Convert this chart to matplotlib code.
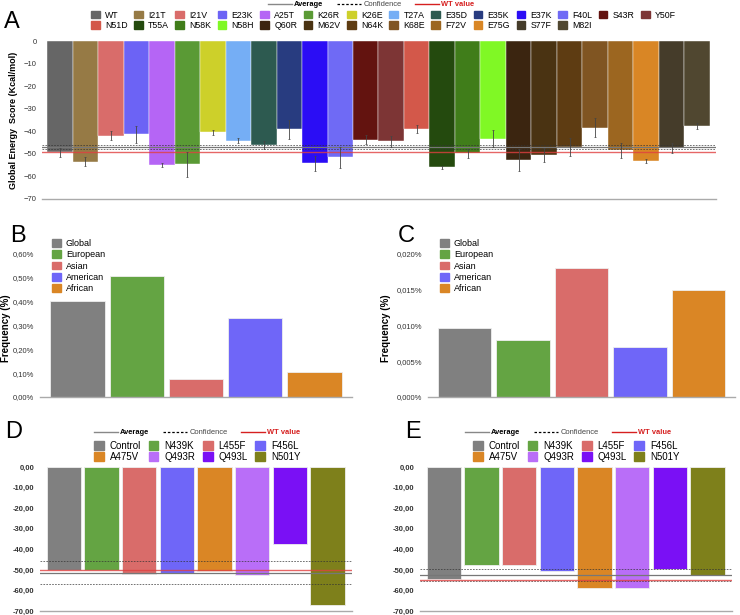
import matplotlib.pyplot as plt
from matplotlib.patches import Patch
from matplotlib.lines import Line2D
from matplotlib.ticker import FuncFormatter

plt.rcParams['font.family'] = ['Liberation Sans', 'DejaVu Sans']

W, H = 740, 615

# ---- Panel A: global energy score per mutation ----
mut_a = ['WT', 'I21T', 'I21V', 'E23K', 'A25T', 'K26R', 'K26E', 'T27A', 'E35D',
         'E35K', 'E37K', 'F40L', 'S43R', 'Y50F', 'N51D', 'T55A', 'N58K', 'N58H',
         'Q60R', 'M62V', 'N64K', 'K68E', 'F72V', 'E75G', 'S77F', 'M82I']
energy_a = [-49.2, -53.6, -41.9, -41.4, -55.0, -54.7, -40.5, -44.1, -46.1,
            -39.2, -54.1, -51.6, -43.8, -44.5, -38.9, -56.0, -49.7, -43.2,
            -52.8, -50.4, -47.0, -38.5, -48.5, -53.2, -47.3, -37.7]
err_a = [2.0, 2.0, 2.0, 3.8, 1.0, 5.7, 1.0, 1.3, 1.8,
         4.0, 3.3, 4.5, 2.0, 2.6, 1.7, 0.8, 2.0, 3.7,
         5.0, 3.0, 4.0, 4.2, 3.3, 1.0, 2.2, 1.3]
colors_a = ['#666666', '#967a45', '#d96c6a', '#6c63f5', '#b565f5', '#5a9a35',
            '#cdd02a', '#75aef5', '#2d5a50', '#283c80', '#2b0df5', '#6f6af5',
            '#63130f', '#7d3535', '#d3584a', '#244a0e', '#407d1a', '#80f825',
            '#3b2510', '#4a3312', '#5e3c12', '#805522', '#9c6620', '#d98625',
            '#453c2a', '#504730']
avg_a = -47.0
conf_a = [-46.1, -47.9]
wt_a = -49.2

# ---- Panels B and C: population frequencies ----
pops = ['Global', 'European', 'Asian', 'American', 'African']
freq_b = [0.402, 0.509, 0.077, 0.333, 0.104]
freq_c = [0.0096, 0.0080, 0.0180, 0.0070, 0.0150]
pop_colors = ['#808080', '#64a443', '#d96c6a', '#6f66f8', '#da8625']

# ---- Panels D and E: ACE2 variants ----
mut_de = ['Control', 'N439K', 'L455F', 'F456L', 'A475V', 'Q493R', 'Q493L', 'N501Y']
energy_d = [-50.2, -49.9, -52.0, -51.3, -50.4, -52.3, -37.4, -67.1]
energy_e = [-54.6, -47.6, -47.8, -50.7, -58.8, -58.9, -49.5, -52.5]
de_colors = ['#808080', '#64a443', '#d96c6a', '#6f66f8', '#da8625', '#b96ef8',
             '#7a10f5', '#7e801b']
avg_d, conf_d, wt_d = -51.3, [-45.8, -56.8], -50.2
avg_e, conf_e, wt_e = -52.3, [-49.4, -55.5], -54.9


def add_ax(left, top, right, bottom):
    return fig.add_axes([left / W, 1 - bottom / H, (right - left) / W, (bottom - top) / H])


def style(ax, size=5.5, bold=False):
    for s in ['left', 'right', 'top']:
        ax.spines[s].set_visible(False)
    ax.spines['bottom'].set_color('#aaaaaa')
    ax.spines['bottom'].set_linewidth(1.0)
    ax.tick_params(length=0, labelsize=size, colors='#333333', pad=4)
    ax.set_xticks([])
    if bold:
        for t in ax.get_yticklabels():
            t.set_fontweight('bold')


def row_major(items, ncol):
    n = len(items)
    nrow = -(-n // ncol)
    out = []
    for j in range(ncol):
        for r in range(nrow):
            i = r * ncol + j
            if i < n:
                out.append(items[i])
    return out


def line_legend(x, y, size=5.4):
    handles = [Line2D([], [], color='#888888', lw=1.0),
               Line2D([], [], color='black', lw=0.9, ls=(0, (2, 1.5))),
               Line2D([], [], color='#d62020', lw=1.0)]
    leg = fig.legend(handles, ['Average', 'Confidence', 'WT value'], ncol=3,
                     loc='upper left', bbox_to_anchor=(x / W, 1 - y / H),
                     frameon=False, fontsize=size, handlelength=3.2,
                     handletextpad=0.3, columnspacing=1.8, borderpad=0,
                     borderaxespad=0)
    txt = leg.get_texts()
    txt[0].set_fontweight('bold')
    txt[1].set_color('#444444')
    txt[2].set_fontweight('bold')
    txt[2].set_color('#d62020')


def hlines(ax, avg, conf, wt):
    ax.axhline(avg, color='#777777', lw=0.9, zorder=4)
    for c in conf:
        ax.axhline(c, color='#333333', lw=0.6, ls=(0, (2, 1.5)), zorder=4, alpha=0.8)
    ax.axhline(wt, color='#e04040', lw=1.0, zorder=4, alpha=0.8)


fig = plt.figure(figsize=(W / 100, H / 100), dpi=100)

# Panel A
axA = add_ax(42, 41, 716, 199)
xa = list(range(len(mut_a)))
axA.bar(xa, energy_a, width=1.0, color=colors_a, edgecolor='#ffffff', linewidth=0.3, zorder=2)
axA.errorbar(xa, energy_a, yerr=err_a, fmt='none', ecolor='#444444',
             elinewidth=0.6, capsize=1, capthick=0.5, zorder=5)
hlines(axA, avg_a, conf_a, wt_a)
axA.set_ylim(-70, 0)
axA.set_xlim(-0.7, len(mut_a) - 0.26)
axA.set_yticks(range(-70, 1, 10))
style(axA)
axA.set_ylabel('Global Energy  Score (Kcal/mol)', fontsize=6.5, fontweight='bold')
axA.yaxis.set_label_coords(-0.035, 0.5)

handles_a = [Patch(color=c) for c in colors_a]
fig.legend(row_major(handles_a, 14), row_major(mut_a, 14), ncol=14,
           loc='upper left', bbox_to_anchor=(91 / W, 1 - 10.5 / H), frameon=False,
           fontsize=6.3, handlelength=1.0, handleheight=1.0, handletextpad=0.6,
           columnspacing=0.72, labelspacing=0.2, borderpad=0, borderaxespad=0)
line_legend(268, 1)

# Panels B and C
for left, right, vals, fmt, label_x, tick_max in [
        (40, 352, freq_b, '{:.2f}%', -0.094, 0.6),
        (428, 735, freq_c, '{:.3f}%', -0.12, 0.02)]:
    ax = add_ax(left, 254, right, 397)
    xp = list(range(len(pops)))
    ax.bar(xp, vals, width=0.915, color=pop_colors, edgecolor='#eeeeee', linewidth=0.6)
    ax.set_ylim(0, tick_max)
    ax.set_xlim(-0.63, 4.63)
    nt = 6 if tick_max == 0.6 else 4
    ax.set_yticks([tick_max * i / nt for i in range(nt + 1)])
    ax.yaxis.set_major_formatter(FuncFormatter(lambda v, p, f=fmt: f.format(v).replace('.', ',')))
    style(ax)
    ax.set_ylabel('Frequency (%)', fontsize=7, fontweight='bold')
    ax.yaxis.set_label_coords(label_x, 0.48)
    ax.legend([Patch(color=c) for c in pop_colors], pops, loc='upper left',
              bbox_to_anchor=((left + 12) / W, 1 - 239 / H),
              bbox_transform=fig.transFigure, frameon=False, fontsize=6.5,
              handlelength=0.95, handleheight=0.95, handletextpad=0.6,
              labelspacing=0.25, borderpad=0, borderaxespad=0)

# Panels D and E
for left, right, vals, avg, conf, wt, box_x, line_x in [
        (40, 352, energy_d, avg_d, conf_d, wt_d, 94, 94),
        (420, 732, energy_e, avg_e, conf_e, wt_e, 473, 465)]:
    ax = add_ax(left, 467, right, 611)
    xp = list(range(len(mut_de)))
    ax.bar(xp, vals, width=0.91, color=de_colors, edgecolor='#eeeeee', linewidth=0.6, zorder=2)
    hlines(ax, avg, conf, wt)
    ax.set_ylim(-70, 0)
    ax.set_xlim(-0.63, 7.65)
    ax.set_yticks(range(-70, 1, 10))
    ax.yaxis.set_major_formatter(FuncFormatter(lambda v, p: '{:.2f}'.format(v).replace('.', ',')))
    style(ax, bold=True)
    fig.legend(row_major([Patch(color=c) for c in de_colors], 4), row_major(mut_de, 4),
               ncol=4, loc='upper left', bbox_to_anchor=(box_x / W, 1 - 441 / H),
               frameon=False, fontsize=7, handlelength=1.0, handleheight=1.0,
               handletextpad=0.6, columnspacing=0.8, labelspacing=0.12,
               borderpad=0, borderaxespad=0)
    line_legend(line_x, 429)

# panel letters
for letter, x, y in [('A', 4, 28), ('B', 10, 242), ('C', 398, 242),
                     ('D', 5, 438), ('E', 405, 438)]:
    fig.text(x / W, 1 - y / H, letter, fontsize=17, va='baseline', ha='left')

fig.savefig('out.png', dpi=100)
